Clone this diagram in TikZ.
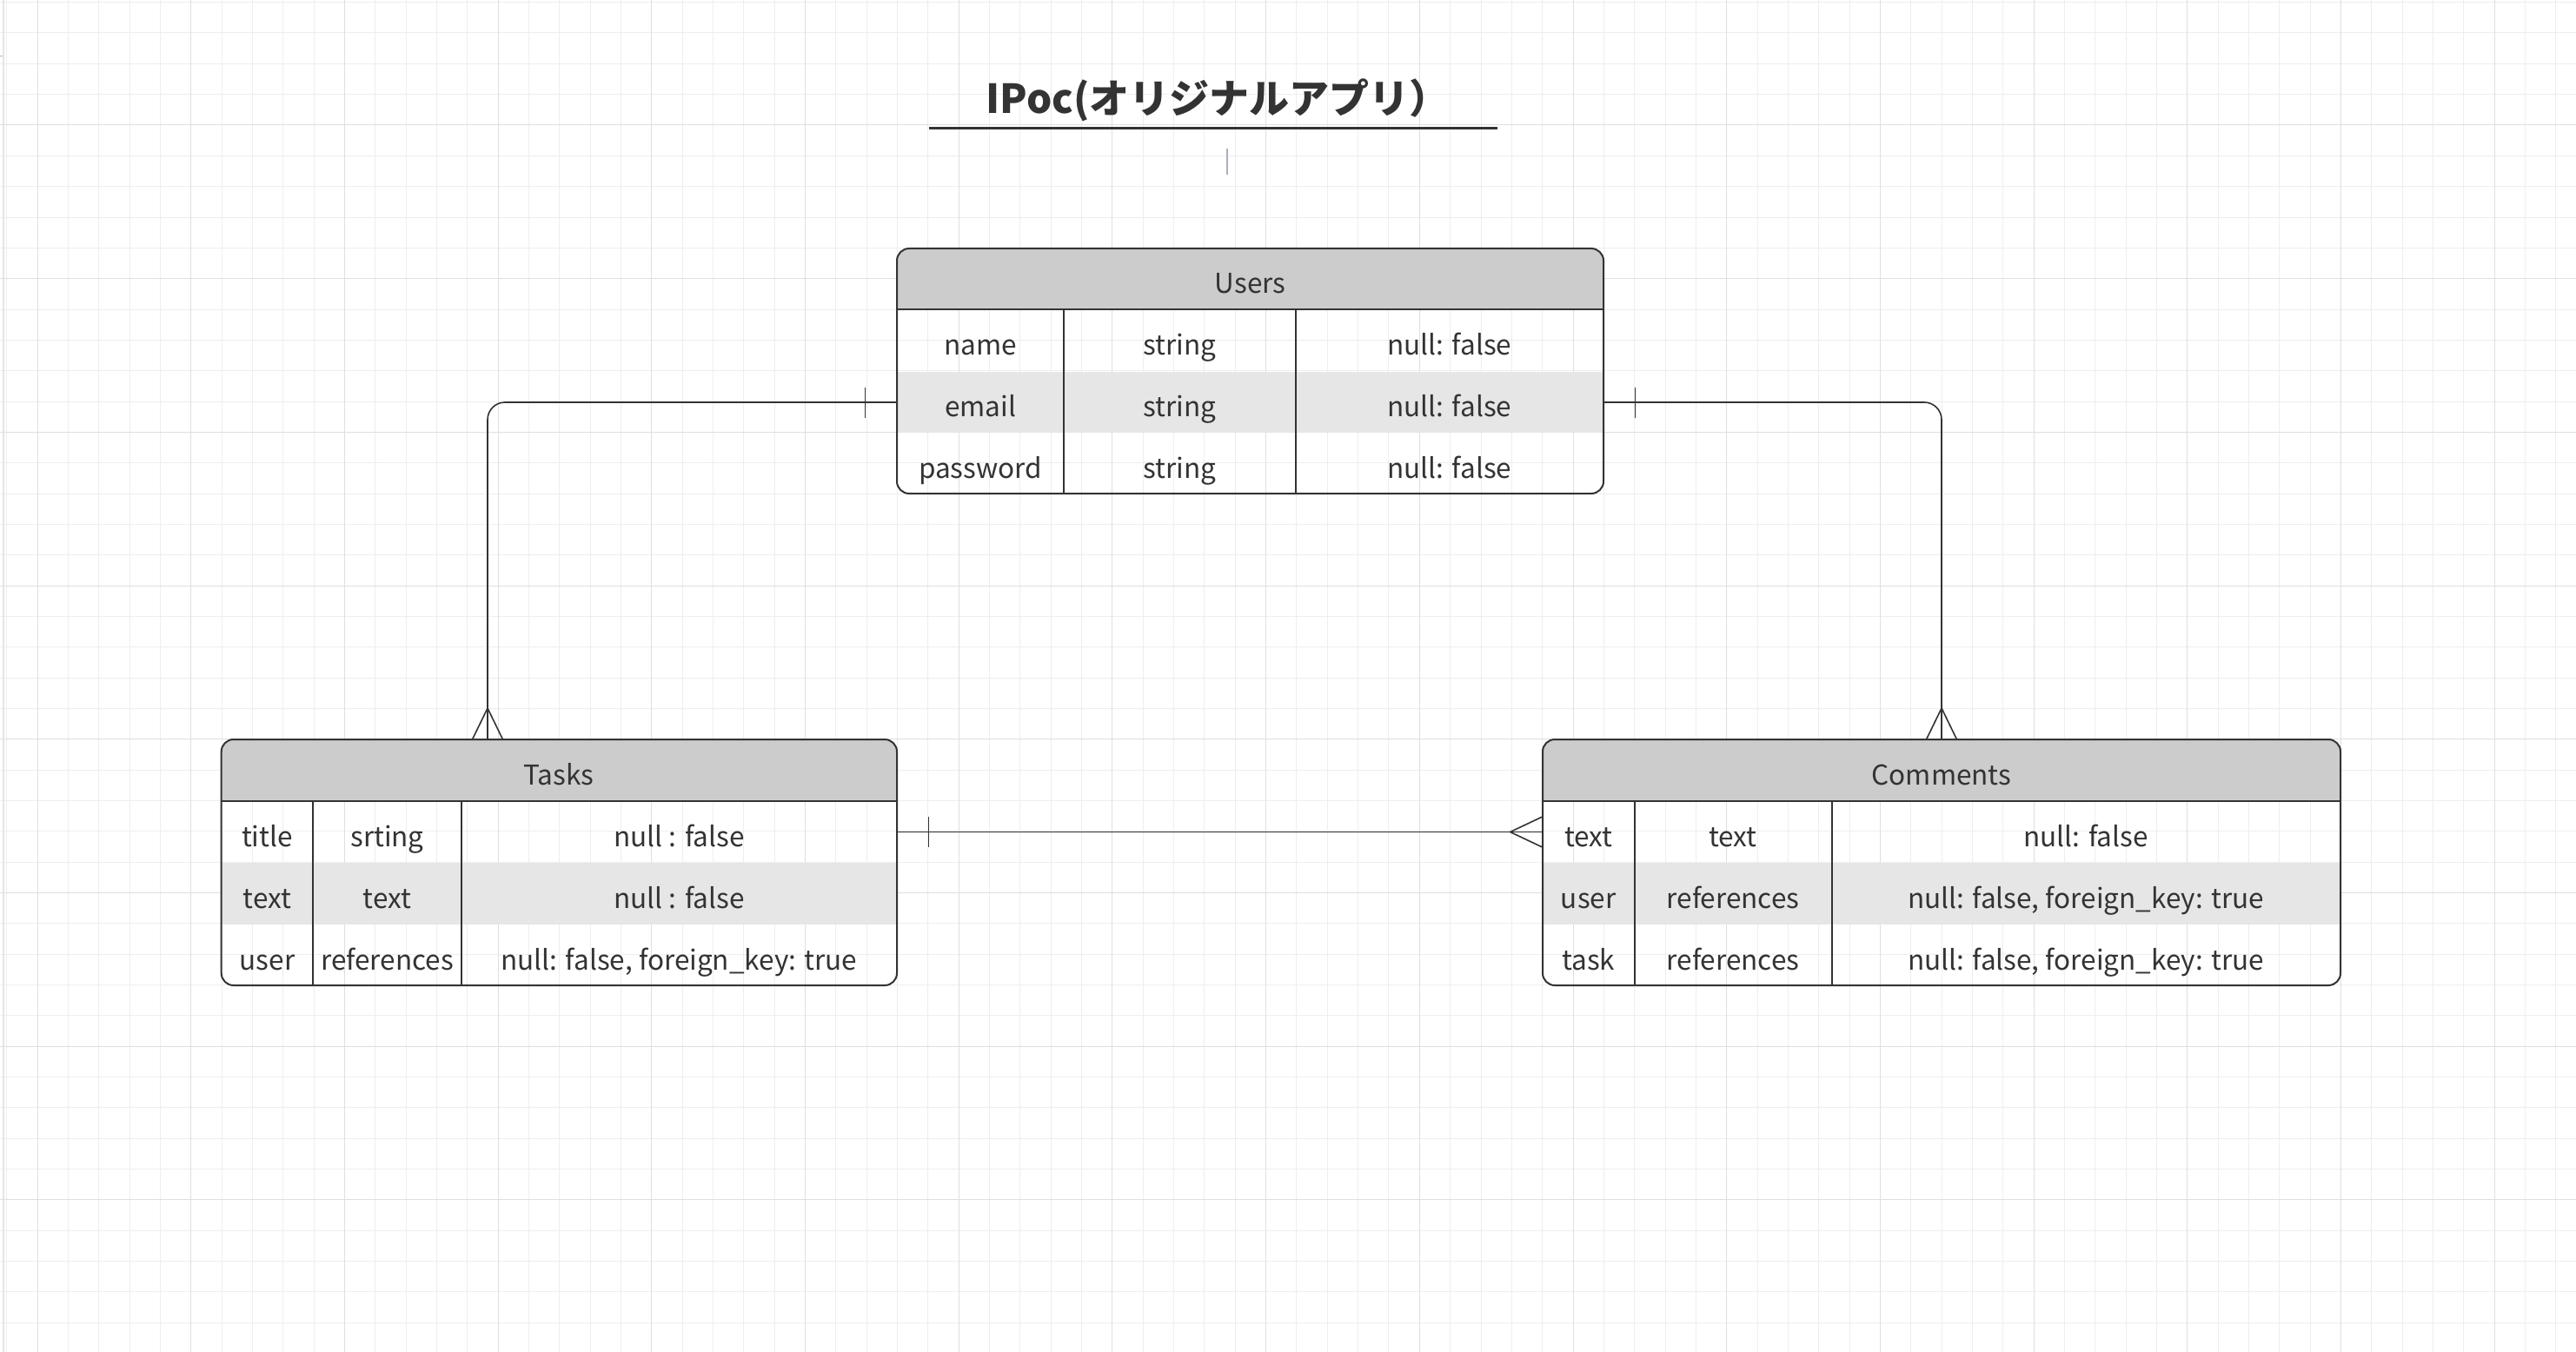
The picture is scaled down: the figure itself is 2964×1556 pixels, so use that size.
\documentclass[tikz,border=0pt]{standalone}
\usepackage{fontspec}
\setmainfont{Noto Sans CJK JP}
\usetikzlibrary{fit}
\definecolor{ink}{HTML}{333333}
\definecolor{headfill}{HTML}{CCCCCC}
\definecolor{stripefill}{HTML}{E6E6E6}
\definecolor{gridminor}{HTML}{EEEEEE}
\definecolor{gridmajor}{HTML}{DFDFDF}
\definecolor{strip}{HTML}{E2E4EC}
\definecolor{tickc}{HTML}{A9AFBD}
\begin{document}
\begin{tikzpicture}[x=0.5pt,y=-0.5pt,
  line join=round,
  cell/.style={anchor=base, inner sep=0pt, text=ink, font=\fontsize{15.75}{18}\selectfont},
  frame/.style={draw=ink, line width=1pt, rounded corners=7pt, inner sep=0pt},
  rowbox/.style={inner sep=0pt},
  tline/.style={draw=ink, line width=1pt},
  rel/.style={draw=ink, line width=0.8pt},
  gmin/.style={draw=gridminor, line width=0.5pt},
  gmaj/.style={draw=gridmajor, line width=0.5pt},
]
\useasboundingbox (0,0) rectangle (2964,1556);
\fill[white] (0,0) rectangle (2964,1556);
% grid
\foreach \i in {0,...,83} \draw[gmin] ({7.66+35.34*\i},0) -- ({7.66+35.34*\i},1556);
\foreach \j in {0,...,44} \draw[gmin] (0,{2.64+35.34*\j}) -- (2964,{2.64+35.34*\j});
\foreach \i in {0,...,16} \draw[gmaj] ({43+176.7*\i},0) -- ({43+176.7*\i},1556);
\foreach \j in {0,...,8} \draw[gmaj] (0,{144+176.7*\j}) -- (2964,{144+176.7*\j});
\draw[strip, line width=1pt] (3.7,0) -- (3.7,1556);
\draw[strip!80!black, line width=0.5pt] (0,65) -- (3,65);

% title
\node[anchor=base, inner sep=0pt, text=ink, font=\fontsize{23}{28}\selectfont\bfseries] (title) at (1401,131) {IPoc(オリジナルアプリ）};
\coordinate (ulA) at (1069,147.5);
\coordinate (ulB) at (1723,147.5);
\draw[ink, line width=1.6pt] (ulA) -- (ulB);
\coordinate (tkA) at (1412,171);
\coordinate (tkB) at (1412,201);
\draw[tickc, line width=0.6pt] (tkA) -- (tkB);

% ---------- Users ----------
\coordinate (u-nw) at (1032,286);
\coordinate (u-se) at (1845,568);
\coordinate (u-r2a) at (1032,428);
\coordinate (u-r2b) at (1845,498);
\begin{scope}
\clip[rounded corners=7pt] (u-nw) rectangle (u-se);
\fill[headfill] (1032,286) rectangle (1845,356);
\fill[stripefill] (u-r2a) rectangle (u-r2b);
\end{scope}
\node[frame, fit=(u-nw)(u-se)] (users) {};
\draw[tline] (1032,356) -- (1845,356);
\draw[tline] (1224,356) -- (1224,568);
\draw[tline] (1491,356) -- (1491,568);
\node[rowbox, fit=(u-r2a)(u-r2b)] (u-email) {};
\node[cell] (u-h) at (1438.5,337.5) {Users};
\node[cell] (u-11) at (1128,408.5) {name};
\node[cell] (u-12) at (1357.5,408.5) {string};
\node[cell] (u-13) at (1668,408.5) {null: false};
\node[cell] (u-21) at (1128,479.5) {email};
\node[cell] (u-22) at (1357.5,479.5) {string};
\node[cell] (u-23) at (1668,479.5) {null: false};
\node[cell] (u-31) at (1128,550) {password};
\node[cell] (u-32) at (1357.5,550) {string};
\node[cell] (u-33) at (1668,550) {null: false};

% ---------- Tasks ----------
\coordinate (t-nw) at (254.7,851);
\coordinate (t-se) at (1032,1134);
\coordinate (t-r1a) at (254.7,922);
\coordinate (t-r1b) at (1032,993);
\begin{scope}
\clip[rounded corners=7pt] (t-nw) rectangle (t-se);
\fill[headfill] (254.7,851) rectangle (1032,922);
\fill[stripefill] (254.7,993) rectangle (1032,1064);
\end{scope}
\node[frame, fit=(t-nw)(t-se)] (tasks) {};
\draw[tline] (254.7,922) -- (1032,922);
\draw[tline] (360,922) -- (360,1134);
\draw[tline] (531,922) -- (531,1134);
\node[rowbox, fit=(t-r1a)(t-r1b)] (t-title) {};
\node[cell] (t-h) at (643,903) {Tasks};
\node[cell] (t-11) at (307.5,974) {title};
\node[cell] (t-12) at (445.5,974) {srting};
\node[cell] (t-13) at (781.5,974) {null : false};
\node[cell] (t-21) at (307.5,1045) {text};
\node[cell] (t-22) at (445.5,1045) {text};
\node[cell] (t-23) at (781.5,1045) {null : false};
\node[cell] (t-31) at (307.5,1116) {user};
\node[cell] (t-32) at (445.5,1116) {references};
\node[cell] (t-33) at (781.5,1116) {null: false, foreign\_key: true};

% ---------- Comments ----------
\coordinate (c-nw) at (1775,851);
\coordinate (c-se) at (2693,1134);
\coordinate (c-r1a) at (1775,922);
\coordinate (c-r1b) at (2693,993);
\begin{scope}
\clip[rounded corners=7pt] (c-nw) rectangle (c-se);
\fill[headfill] (1775,851) rectangle (2693,922);
\fill[stripefill] (1775,993) rectangle (2693,1064);
\end{scope}
\node[frame, fit=(c-nw)(c-se)] (comments) {};
\draw[tline] (1775,922) -- (2693,922);
\draw[tline] (1880.5,922) -- (1880.5,1134);
\draw[tline] (2107.5,922) -- (2107.5,1134);
\node[rowbox, fit=(c-r1a)(c-r1b)] (c-text) {};
\node[cell] (c-h) at (2234,903) {Comments};
\node[cell] (c-11) at (1827.7,974) {text};
\node[cell] (c-12) at (1994,974) {text};
\node[cell] (c-13) at (2400,974) {null: false};
\node[cell] (c-21) at (1827.7,1045) {user};
\node[cell] (c-22) at (1994,1045) {references};
\node[cell] (c-23) at (2400,1045) {null: false, foreign\_key: true};
\node[cell] (c-31) at (1827.7,1116) {task};
\node[cell] (c-32) at (1994,1116) {references};
\node[cell] (c-33) at (2400,1116) {null: false, foreign\_key: true};

% ---------- relations ----------
\coordinate (t-foot) at (561,851);
\coordinate (c-foot) at (2234,851);
% Users -> Tasks
\draw[rel, rounded corners=10pt] (u-email.west) -| (t-foot);
\draw[rel] (u-email.west) ++(-36,-17.5) -- ++(0,35);
\draw[rel] (t-foot) ++(-17.5,0) -- ++(17.5,-36) -- ++(17.5,36);
% Users -> Comments
\draw[rel, rounded corners=10pt] (u-email.east) -| (c-foot);
\draw[rel] (u-email.east) ++(36,-17.5) -- ++(0,35);
\draw[rel] (c-foot) ++(-17.5,0) -- ++(17.5,-36) -- ++(17.5,36);
% Tasks -> Comments
\draw[rel] (t-title.east) -- (c-text.west);
\draw[rel] (t-title.east) ++(36,-17.5) -- ++(0,35);
\draw[rel] (c-text.west) ++(0,-17.5) -- ++(-37,17.5) -- ++(37,17.5);
\end{tikzpicture}
\end{document}
